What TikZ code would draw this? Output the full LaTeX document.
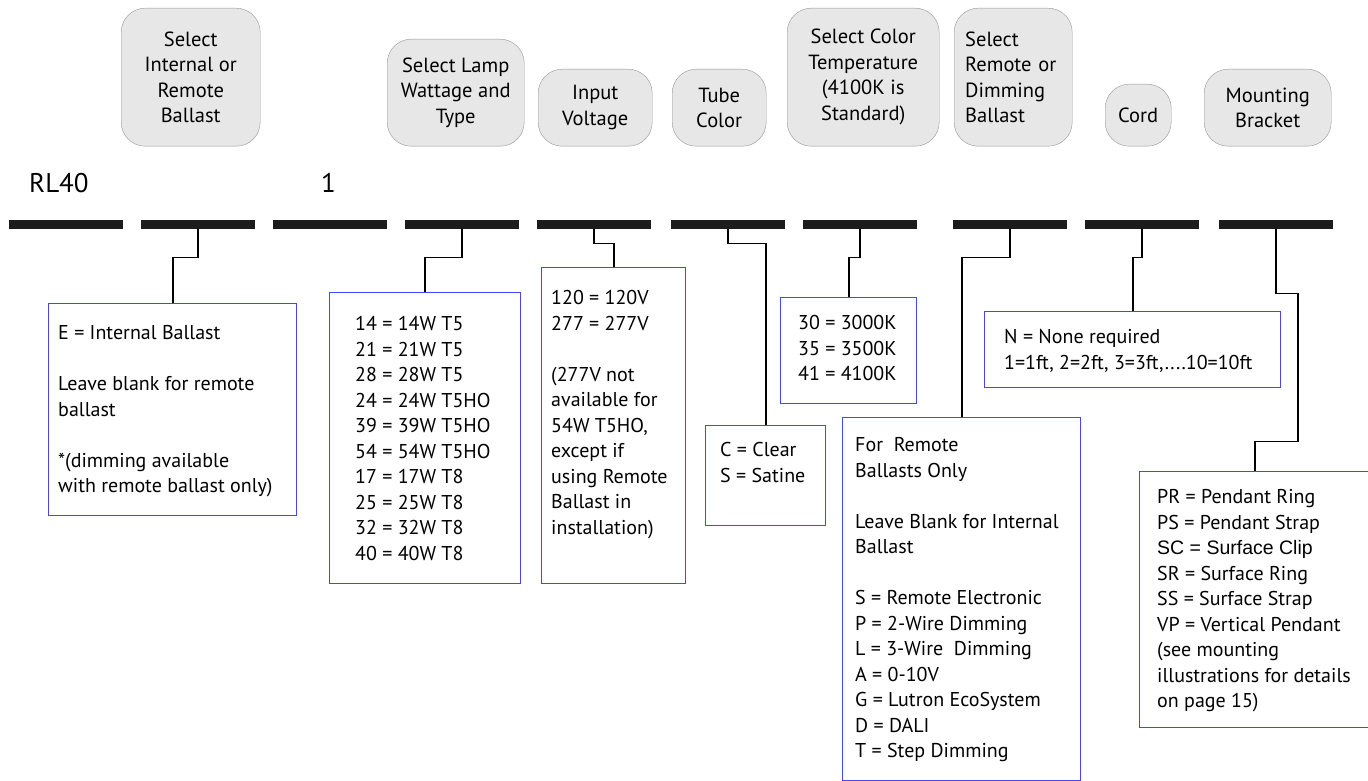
\documentclass[tikz,border=0pt]{standalone}
\usepackage{fontspec}
\setmainfont{PT Sans}
\newfontfamily\clipfont{Liberation Sans}
\definecolor{tikzheadgray}{RGB}{231,231,231}
\definecolor{tikzedgegray}{RGB}{150,150,150}
\definecolor{tikzlistblue}{RGB}{70,70,255}
\definecolor{tikzbarblack}{RGB}{28,28,28}

\begin{document}
\begin{tikzpicture}[x=1pt,y=-1pt,
        head/.style={draw=tikzedgegray,fill=tikzheadgray,rounded corners=24pt,
            anchor=north west,inner sep=0pt,align=center,
            font=\fontsize{20.5}{25.5}\selectfont},
        bar/.style={fill=tikzbarblack,anchor=north west,inner sep=0pt,
            minimum width=114pt,minimum height=9pt},
        listbox/.style={draw=tikzlistblue,line width=1.4pt,anchor=north west,inner sep=0pt},
        listtext/.style={anchor=north west,inner sep=0pt,align=left,
            font=\fontsize{20}{25.5}\selectfont},
        wire/.style={line width=1.8pt}]
    \useasboundingbox (0,0) rectangle (1368,781);
    % header boxes
    \node[head,minimum width=139pt,minimum height=138pt] (ballasthead) at (121,8)
        {Select\\Internal or\\Remote\\Ballast};
    \node[head,minimum width=137pt,minimum height=107pt] (lamphead) at (387,39)
        {Select Lamp\\Wattage and\\Type};
    \node[head,minimum width=114pt,minimum height=77pt] (volthead) at (538,69)
        {Input\\Voltage};
    \node[head,minimum width=94pt,minimum height=77pt] (tubehead) at (672,69)
        {Tube\\Color};
    \node[head,minimum width=152pt,minimum height=138pt] (temphead) at (787,8)
        {Select Color\\Temperature\\(4100K is\\Standard)};
    \node[head,minimum width=118pt,minimum height=138pt,text width=96pt,align=left] (remotehead) at (954,8)
        {Select\\Remote or\\Dimming\\Ballast};
    \node[head,minimum width=66pt,minimum height=62pt] (cordhead) at (1105,84)
        {Cord};
    \node[head,minimum width=127pt,minimum height=77pt] (mounthead) at (1204,69)
        {Mounting\\Bracket};
    % catalogue number
    \node[anchor=base west,inner sep=0pt,font=\fontsize{27}{30}\selectfont] (prefix) at (29,193) {RL40};
    \node[anchor=base west,inner sep=0pt,font=\fontsize{27}{30}\selectfont] (digit) at (321,193) {1};
    \foreach \x/\n in {9/1,141/2,273/3,405/4,537/5,671/6,803/7,953/8,1085/9,1219/10}
        \node[bar] (bar\n) at (\x,220) {};
    % option boxes
    \node[listbox,minimum width=248pt,minimum height=212pt] (ballastbox) at (48,303) {};
    \node[listtext] (ballasttext) at (58,325.5)
        {E = Internal Ballast\\[25.5pt]Leave blank for remote\\ballast\\[25.5pt]*(dimming available\\with remote ballast only)};
    \node[listbox,minimum width=191pt,minimum height=291pt] (lampbox) at (329,292) {};
    \node[listtext] (lamptext) at (355,316.5)
        {14 = 14W T5\\21 = 21W T5\\28 = 28W T5\\24 = 24W T5HO\\39 = 39W T5HO\\54 = 54W T5HO\\17 = 17W T8\\25 = 25W T8\\32 = 32W T8\\40 = 40W T8};
    \node[listbox,minimum width=144pt,minimum height=316pt] (voltbox) at (541,267) {};
    \node[listtext] (volttext) at (551,290.5)
        {120 = 120V\\277 = 277V\\[25.5pt](277V not\\available for\\54W T5HO,\\except if\\using Remote\\Ballast in\\installation)};
    \node[listbox,minimum width=120pt,minimum height=100pt] (tubebox) at (705,425) {};
    \node[listtext] (tubetext) at (720,442.5)
        {C = Clear\\S = Satine};
    \node[listbox,minimum width=136pt,minimum height=106pt] (tempbox) at (780,297) {};
    \node[listtext] (temptext) at (798,315.5)
        {30 = 3000K\\35 = 3500K\\41 = 4100K};
    \node[listbox,minimum width=238pt,minimum height=363pt] (remotebox) at (842,417) {};
    \node[listtext] (remotetext) at (855,437.5)
        {For\ \ Remote\\Ballasts Only\\[25.5pt]Leave Blank for Internal\\Ballast\\[25.5pt]S = Remote Electronic\\P = 2-Wire Dimming\\L = 3-Wire\ \ Dimming\\A = 0-10V\\G = Lutron EcoSystem\\D = DALI\\T = Step Dimming};
    \node[listbox,minimum width=296pt,minimum height=76pt] (cordbox) at (984,311) {};
    \node[listtext] (cordtext) at (1004,329.5)
        {N = None required\\1=1ft, 2=2ft, 3=3ft,....10=10ft};
    \node[listbox,minimum width=235pt,minimum height=256pt] (mountbox) at (1139,471) {};
    \node[listtext] (mounttext) at (1157,489.5)
        {PR = Pendant Ring\\PS = Pendant Strap\\{\clipfont\fontsize{19.5}{23}\selectfont SC = Surface Clip}\\SR = Surface Ring\\SS = Surface Strap\\VP = Vertical Pendant\\(see mounting\\illustrations for details\\on page 15)};
    % connectors
    \coordinate (mountin) at (1255,471);
    \draw[wire] (bar2.south) -- ++(0,28) -| (ballastbox.north);
    \draw[wire] (bar4.south) -- ++(0,28) -| (lampbox.north);
    \draw[wire] (bar5.south) -- ++(0,14) -| (voltbox.north);
    \draw[wire] (bar6.south) -- ++(0,14) -| (tubebox.north);
    \draw[wire] (bar7.south) -- ++(0,28) -| (tempbox.north);
    \draw[wire] (bar8.south) -- ++(0,28) -| (remotebox.north);
    \draw[wire] (bar9.south) -- ++(0,28) -| (cordbox.north);
    \draw[wire] (bar10.south) -- ++(0,64) -- ++(22,0) -- ++(0,148) -| (mountin);
\end{tikzpicture}
\end{document}
